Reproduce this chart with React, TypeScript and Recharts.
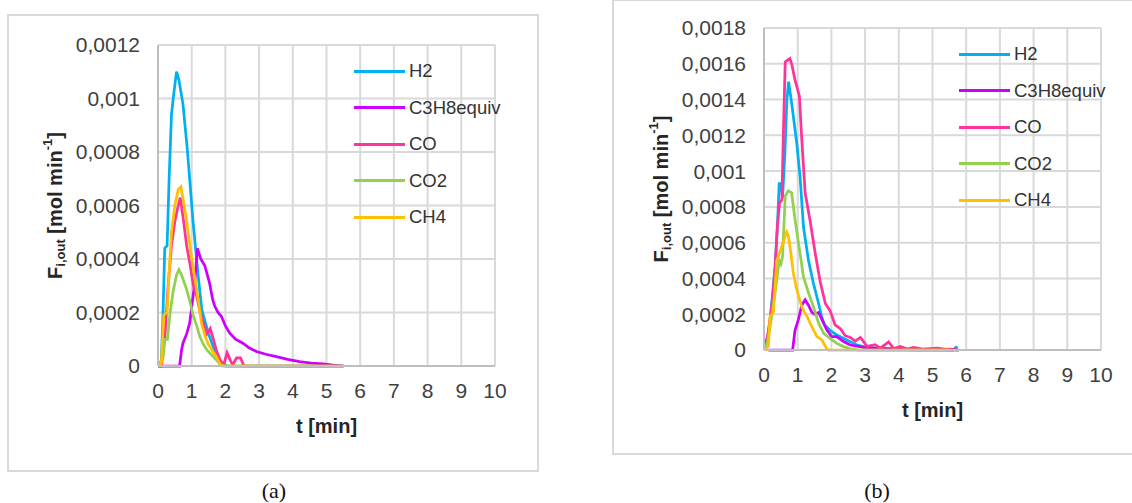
import React from 'react';
import { LineChart, Line, XAxis, YAxis, CartesianGrid, Legend } from 'recharts';

type Pt = [number, number];

const SERIES_NAMES = ['H2', 'C3H8equiv', 'CO', 'CO2', 'CH4'];
const SERIES_COLORS = ['#00b0f0', '#cc00ff', '#ff3399', '#92d050', '#ffc000'];

const xTicks = [0, 1, 2, 3, 4, 5, 6, 7, 8, 9, 10];
const yTicksA = [0, 0.0002, 0.0004, 0.0006, 0.0008, 0.001, 0.0012];
const yTicksB = [0, 0.0002, 0.0004, 0.0006, 0.0008, 0.001, 0.0012, 0.0014, 0.0016, 0.0018];

// (a) t [min], F [mol/min]
const h2A: Pt[] = [
  [0, 0], [0.1, 0.00002], [0.15, 0.0002], [0.2, 0.00044], [0.27, 0.00045], [0.33, 0.0007],
  [0.4, 0.00094], [0.47, 0.00102], [0.55, 0.0011], [0.62, 0.00107], [0.74, 0.00098],
  [0.87, 0.00081], [1.04, 0.00054], [1.19, 0.00034], [1.3, 0.00021], [1.5, 0.00012],
  [1.7, 0.00005], [1.9, 0.00001], [2.05, 0], [5.5, 0],
];
const c3h8A: Pt[] = [
  [0, 0], [0.64, 0], [0.7, 0.00006], [0.74, 0.000085], [0.85, 0.00012], [0.94, 0.00016],
  [1.02, 0.00024], [1.09, 0.00031], [1.17, 0.00044], [1.27, 0.0004], [1.39, 0.000375],
  [1.53, 0.00031], [1.62, 0.00025], [1.68, 0.000225], [1.78, 0.0002], [1.88, 0.000186],
  [2.0, 0.00015], [2.13, 0.000123], [2.3, 0.0001], [2.52, 0.000085], [2.7, 0.000068],
  [2.92, 0.000054], [3.2, 0.000044], [3.51, 0.000035], [3.85, 0.000025], [4.2, 0.000016],
  [4.55, 0.000011], [4.9, 0.000008], [5.2, 0.000003], [5.5, 0],
];
const coA: Pt[] = [
  [0, 0], [0.1, 0], [0.2, 0.0001], [0.3, 0.0003], [0.4, 0.00045], [0.5, 0.00054],
  [0.6, 0.0006], [0.66, 0.00063], [0.75, 0.00055], [0.85, 0.00045], [0.95, 0.00038],
  [1.05, 0.0003], [1.15, 0.00026], [1.25, 0.0002], [1.35, 0.00016], [1.45, 0.00012],
  [1.55, 0.00014], [1.62, 0.00011], [1.73, 0.00006], [1.85, 0.00002], [1.95, 0.000005],
  [2.05, 0.00005], [2.15, 0.00002], [2.22, 0.000005], [2.33, 0.00003], [2.45, 0.00003],
  [2.55, 0], [5.5, 0],
];
const co2A: Pt[] = [
  [0, 0], [0.15, 0.00003], [0.2, 0.0001], [0.28, 0.0001], [0.35, 0.00019], [0.45, 0.00028],
  [0.55, 0.00034], [0.62, 0.00036], [0.7, 0.00034], [0.84, 0.00029], [0.95, 0.00024],
  [1.04, 0.00019], [1.15, 0.00015], [1.24, 0.00011], [1.35, 0.00008], [1.45, 0.00006],
  [1.6, 0.00004], [1.75, 0.00002], [1.85, 0.000005], [2.0, 0], [5.5, 0],
];
const ch4A: Pt[] = [
  [0, 0], [0.1, 0.00001], [0.17, 0.00019], [0.27, 0.0002], [0.33, 0.00035], [0.4, 0.0005],
  [0.5, 0.0006], [0.6, 0.00066], [0.68, 0.00067], [0.75, 0.00062], [0.84, 0.00055],
  [0.99, 0.00041], [1.14, 0.00029], [1.29, 0.00016], [1.4, 0.00011], [1.5, 0.00008],
  [1.6, 0.00006], [1.73, 0.000035], [1.85, 0.000005], [1.9, 0], [5.5, 0],
];

// (b)
const h2B: Pt[] = [
  [0, 0.00001], [0.1, 0.00006], [0.18, 0.00017], [0.25, 0.0003], [0.33, 0.00047], [0.4, 0.0007],
  [0.45, 0.00093], [0.5, 0.00093], [0.55, 0.00085], [0.62, 0.0011], [0.68, 0.0014],
  [0.73, 0.0015], [0.82, 0.00138], [0.97, 0.00116], [1.07, 0.00097], [1.17, 0.00069],
  [1.32, 0.0005], [1.47, 0.00037], [1.62, 0.00026], [1.72, 0.00018], [1.8, 0.00014],
  [1.96, 0.00011], [2.16, 0.000084], [2.46, 0.000056], [2.76, 0.000028], [3.06, 0.000015],
  [3.55, 0.000007], [4.5, 0], [5.6, 0], [5.7, 0.000015], [5.75, 0.000012],
];
const c3h8B: Pt[] = [
  [0.13, 0], [0.85, 0], [0.92, 0.00011], [1.02, 0.00017], [1.12, 0.00025], [1.22, 0.00028],
  [1.32, 0.00025], [1.42, 0.00021], [1.5, 0.0002], [1.62, 0.00021], [1.72, 0.00017],
  [1.87, 0.00011], [2.01, 0.000075], [2.16, 0.000075], [2.36, 0.000047], [2.56, 0.000028],
  [2.96, 0.000015], [3.55, 0.000007], [4.5, 0.000004], [5.6, 0], [5.78, 0],
];
const coB: Pt[] = [
  [0, 0.00003], [0.1, 0.00007], [0.18, 0.00017], [0.25, 0.00028], [0.33, 0.00046], [0.4, 0.0007],
  [0.46, 0.00082], [0.53, 0.00084], [0.58, 0.00125], [0.63, 0.00161], [0.7, 0.00162],
  [0.77, 0.00163], [0.82, 0.0016], [0.92, 0.00151], [1.05, 0.00142], [1.12, 0.00118],
  [1.22, 0.00088], [1.37, 0.00072], [1.52, 0.00054], [1.67, 0.00038], [1.82, 0.00026],
  [1.96, 0.00022], [2.11, 0.00014], [2.26, 0.00012], [2.41, 0.00008], [2.56, 0.00007],
  [2.71, 0.00005], [2.86, 0.00007], [3.06, 0.00002], [3.3, 0.00003], [3.45, 0.00001],
  [3.7, 0.000045], [3.85, 0.000008], [4.05, 0.00002], [4.25, 0.000005], [4.44, 0.000015],
  [4.7, 0.000005], [5.14, 0.00001], [5.4, 0.000003], [5.54, 0.000005], [5.73, 0],
];
const co2B: Pt[] = [
  [0, 0], [0.1, 0.00004], [0.18, 0.00013], [0.33, 0.00032], [0.45, 0.0005], [0.5, 0.00048],
  [0.55, 0.00052], [0.63, 0.00086], [0.72, 0.00089], [0.82, 0.00088], [0.92, 0.00073],
  [1.07, 0.00054], [1.17, 0.00041], [1.32, 0.00032], [1.47, 0.00024], [1.62, 0.00015],
  [1.77, 0.000093], [1.96, 0.000065], [2.16, 0.000037], [2.36, 0.000019], [2.56, 0.000007],
  [2.8, 0], [5.5, 0],
];
const ch4B: Pt[] = [
  [0, 0], [0.13, 0.00002], [0.18, 0.00019], [0.28, 0.00021], [0.38, 0.0005], [0.53, 0.00058],
  [0.67, 0.00066], [0.72, 0.00064], [0.77, 0.00058], [0.87, 0.00043], [0.97, 0.00034],
  [1.12, 0.00024], [1.27, 0.00019], [1.42, 0.00013], [1.57, 0.000075], [1.72, 0.000056],
  [1.85, 0.00001], [1.91, 0], [5.54, 0],
];

const FONT = '"Liberation Sans", Arial, sans-serif';
const TEXT = '#404040';

const toRows = (pts: Pt[]) => pts.map(([t, v]) => ({ t, v }));
const fmtY = (v: number) => (v === 0 ? '0' : v.toFixed(4).replace(/0+$/, '').replace('.', ','));

const YTitle = (props: any) => {
  const vb = props.viewBox || {};
  const cx = vb.x + vb.width - 103;
  const cy = vb.y + vb.height / 2;
  return (
    <text
      transform={`translate(${cx},${cy}) rotate(-90)`}
      textAnchor="middle"
      dominantBaseline="central"
      fontFamily={FONT}
      fontWeight="bold"
      fontSize={20}
      fill="#262626"
    >
      F<tspan fontSize={13} dy={5}>i,out</tspan>
      <tspan dy={-5}> [mol min</tspan>
      <tspan fontSize={13} dy={-8}>-1</tspan>
      <tspan dy={8}>]</tspan>
    </text>
  );
};

const XTitle = (props: any) => {
  const vb = props.viewBox || {};
  return (
    <text
      x={vb.x + vb.width / 2}
      y={vb.y + 60}
      textAnchor="middle"
      dominantBaseline="central"
      fontFamily={FONT}
      fontWeight="bold"
      fontSize={20}
      fill="#262626"
    >
      t [min]
    </text>
  );
};

const renderLegend = () => (
  <div style={{ fontFamily: FONT }}>
    {SERIES_NAMES.map((name, i) => (
      <div key={name} style={{ display: 'flex', alignItems: 'center', height: 36.5 }}>
        <div style={{ width: 51, height: 3, background: SERIES_COLORS[i], marginRight: 4 }} />
        <span style={{ fontSize: 18.5, color: '#333' }}>{name}</span>
      </div>
    ))}
  </div>
);

interface PanelProps {
  left: number;
  width: number;
  height: number;
  margin: { top: number; right: number; left: number; bottom: number };
  yAxisWidth: number;
  yTicks: number[];
  series: Pt[][];
  legendAt: { left: number; top: number };
}

function Panel({ left, width, height, margin, yAxisWidth, yTicks, series, legendAt }: PanelProps) {
  return (
    <div style={{ position: 'absolute', left, top: 0 }}>
      <LineChart width={width} height={height} margin={margin}>
        <CartesianGrid stroke="#d9d9d9" strokeWidth={2} />
        <XAxis
          type="number"
          dataKey="t"
          domain={[0, 10]}
          ticks={xTicks}
          interval={0}
          height={114}
          tickLine={false}
          tickMargin={11}
          axisLine={{ stroke: '#bfbfbf', strokeWidth: 2 }}
          tick={{ fontSize: 21, fill: TEXT, fontFamily: FONT }}
          label={XTitle}
        />
        <YAxis
          type="number"
          domain={[yTicks[0], yTicks[yTicks.length - 1]]}
          ticks={yTicks}
          interval={0}
          width={yAxisWidth}
          tickLine={false}
          tickMargin={12}
          tickFormatter={fmtY}
          axisLine={{ stroke: '#bfbfbf', strokeWidth: 2 }}
          tick={{ fontSize: 21, fill: TEXT, fontFamily: FONT }}
          label={YTitle}
        />
        <Legend
          layout="vertical"
          align="center"
          verticalAlign="middle"
          content={renderLegend}
          wrapperStyle={{ left: legendAt.left, top: legendAt.top, width: 170 }}
        />
        {series.map((pts, i) => (
          <Line
            key={SERIES_NAMES[i]}
            data={toRows(pts)}
            dataKey="v"
            name={SERIES_NAMES[i]}
            type="linear"
            stroke={SERIES_COLORS[i]}
            strokeWidth={2.75}
            dot={false}
            activeDot={false}
            isAnimationActive={false}
          />
        ))}
      </LineChart>
    </div>
  );
}

const captionStyle: React.CSSProperties = {
  position: 'absolute',
  top: 480,
  width: 40,
  lineHeight: '22px',
  textAlign: 'center',
  fontFamily: '"Liberation Serif", serif',
  fontSize: 22,
  color: '#111',
};

export default function App() {
  return (
    <div
      style={{
        position: 'absolute',
        left: 0,
        top: 0,
        width: 1132,
        height: 503,
        background: '#fff',
        overflow: 'hidden',
      }}
    >
      <div style={{ position: 'absolute', left: 7, top: 14, width: 528, height: 454, border: '2px solid #d9d9d9' }} />
      <div style={{ position: 'absolute', left: 612, top: -1, width: 540, height: 452, border: '2px solid #d9d9d9' }} />
      <Panel
        left={0}
        width={560}
        height={480}
        margin={{ top: 45, right: 65, left: 0, bottom: 0 }}
        yAxisWidth={158}
        yTicks={yTicksA}
        series={[h2A, c3h8A, coA, co2A, ch4A]}
        legendAt={{ left: 354, top: 53 }}
      />
      <Panel
        left={600}
        width={540}
        height={464}
        margin={{ top: 28, right: 39, left: 0, bottom: 0 }}
        yAxisWidth={164}
        yTicks={yTicksB}
        series={[h2B, c3h8B, coB, co2B, ch4B]}
        legendAt={{ left: 359, top: 36 }}
      />
      <div style={{ ...captionStyle, left: 254 }}>(a)</div>
      <div style={{ ...captionStyle, left: 857 }}>(b)</div>
    </div>
  );
}
